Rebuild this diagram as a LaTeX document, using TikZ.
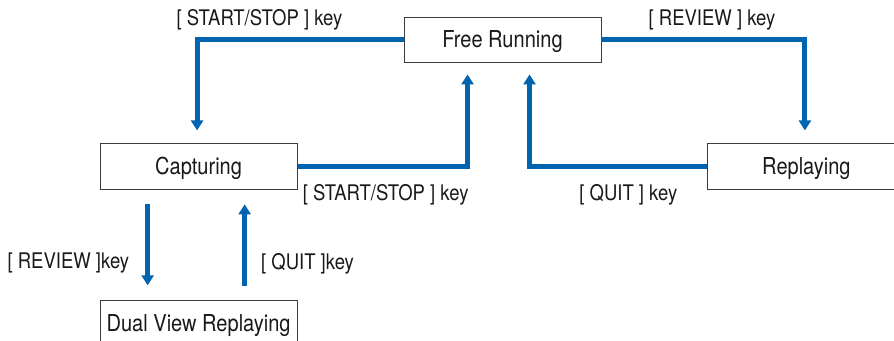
\documentclass[tikz,border=0pt]{standalone}
\usepackage{fontspec}
\setmainfont{TeX Gyre Heros}[FakeStretch=0.86]
\usetikzlibrary{
  positioning,
  arrows.meta
}
\definecolor{keyblue}{HTML}{0064B0}
\definecolor{frame}{HTML}{3C3C3C}

\begin{document}
\begin{tikzpicture}[
  x=1pt, y=-1pt,
  state/.style={draw=frame, line width=0.9pt, fill=white, minimum width=197pt, minimum height=46pt, inner sep=0pt, text height=16pt, text depth=0pt, text=black!90, font=\fontsize{23.3}{27}\selectfont},
  keylbl/.style={inner sep=0pt, text=black!90, font=\fontsize{21.5}{25}\selectfont},
  arr/.style={-{Triangle[width=12pt,length=10pt]}, line width=5pt, keyblue}
]
  \useasboundingbox (0,0) rectangle (894,340);
  \clip (0,0) rectangle (894,340);

  % states
  \node[state, minimum height=45pt] (free) at (502.5,39.5) {Free Running};
  \node[state, below left=81pt and 106pt of free] (cap) {Capturing};
  \node[state, below right=81pt and 106pt of free] (rep) {Replaying};
  \node[state, below=110pt of cap] (dual) {Dual View Replaying};

  % key transitions
  \draw[arr] (free.west) -| ([xshift=-1.5pt,yshift=13pt]cap.north);
  \draw[arr] (cap.east) -| ([xshift=64pt,yshift=-12pt]free.south west);
  \draw[arr] (free.east) -| ([xshift=-1.5pt,yshift=13pt]rep.north);
  \draw[arr] (rep.west) -| ([xshift=126pt,yshift=-12pt]free.south west);
  \draw[arr] ([xshift=48pt,yshift=-14pt]cap.south west) -- ([xshift=48pt,yshift=15pt]dual.north west)
    node[keylbl, pos=.73, left=16pt] (krev2) {[ REVIEW ]key};
  \draw[arr] ([xshift=145pt,yshift=14pt]dual.north west) -- ([xshift=145pt,yshift=-14pt]cap.south west)
    node[keylbl, pos=.28, right=14pt] (kquit2) {[ QUIT ]key};

  \node[keylbl, above left=9pt and 61pt of free.west] (kss1) {[ START/STOP ] key};
  \node[keylbl, below right=17pt and 5pt of cap.east] (kss2) {[ START/STOP ] key};
  \node[keylbl, above right=9pt and 47pt of free.east] (krev1) {[ REVIEW ] key};
  \node[keylbl, below left=17pt and 30pt of rep.west] (kquit1) {[ QUIT ] key};
\end{tikzpicture}
\end{document}
